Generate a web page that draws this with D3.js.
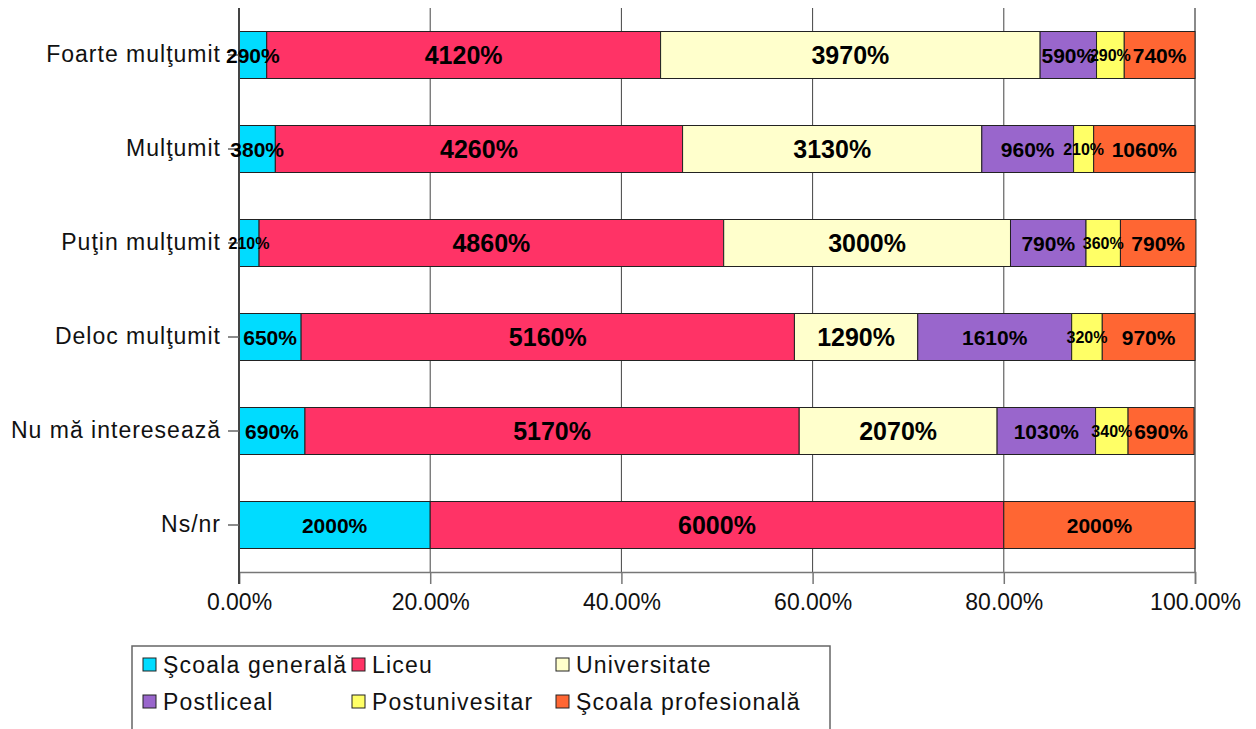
<!DOCTYPE html>
<html>
<head>
<meta charset="utf-8">
<script src="https://d3js.org/d3.v7.min.js"></script>
<style>
  body { margin: 0; background: #fff; }
  text { font-family: "Liberation Sans", Arial, sans-serif; }
</style>
</head>
<body>
<div id="container"></div>
<script>
/* chart data */
var categories = ["Foarte mulţumit", "Mulţumit", "Puţin mulţumit", "Deloc mulţumit", "Nu mă interesează", "Ns/nr"]
var series = ["Şcoala generală", "Liceu", "Universitate", "Postliceal", "Postunivesitar", "Şcoala profesională"]
var scoalaGenerala   = [2.9, 3.8, 2.1, 6.5, 6.9, 20]
var liceu            = [41.2, 42.6, 48.6, 51.6, 51.7, 60]
var universitate     = [39.7, 31.3, 30.0, 12.9, 20.7, 0]
var postliceal       = [5.9, 9.6, 7.9, 16.1, 10.3, 0]
var postunivesitar   = [2.9, 2.1, 3.6, 3.2, 3.4, 0]
var scoalaProf       = [7.4, 10.6, 7.9, 9.7, 6.9, 20]
var xTicks = [0, 20, 40, 60, 80, 100]
var colors = ["#00DCFF", "#FF3366", "#FFFFCC", "#9966CC", "#FFFF66", "#FF6633"]

var seriesValues = [scoalaGenerala, liceu, universitate, postliceal, postunivesitar, scoalaProf]

/* build a table for d3.stack */
var table = categories.map(function(c, i) {
  var row = { cat: c }
  series.forEach(function(s, j) { row[s] = seriesValues[j][i] })
  return row
})

var W = 1256, H = 729
var svg = d3.select("#container").append("svg")
            .attr("width", W).attr("height", H)

var x = d3.scaleLinear().domain([0, 100]).range([239, 1195])
var y = d3.scaleBand().domain(categories).range([8, 572])
          .paddingInner(0.5).paddingOuter(0.25)

/* gridlines */
svg.append("g").selectAll("line")
   .data(xTicks.slice(1))
   .enter().append("line")
     .attr("x1", function(d) { return x(d) }).attr("x2", function(d) { return x(d) })
     .attr("y1", 8).attr("y2", 572)
     .attr("stroke", function(d) { return d == 100 ? "#8a8a8a" : "#444" })
     .attr("stroke-width", function(d) { return d == 100 ? 2 : 1 })

/* x axis */
var xAxis = d3.axisBottom(x).tickValues(xTicks).tickSize(12).tickPadding(10)
              .tickFormat(function(d) { return d3.format(".2f")(d) + "%" })
var gx = svg.append("g").attr("transform", "translate(0,572)").call(xAxis)
gx.select(".domain").attr("stroke", "#777").attr("stroke-width", 1.5)
gx.selectAll(".tick line").attr("stroke", "#777").attr("stroke-width", 1.5)
gx.selectAll(".tick text").attr("font-size", 23).attr("fill", "#111")
  .attr("font-family", "Liberation Sans, Arial, sans-serif")

/* stacked bars */
var stack = d3.stack().keys(series)
var layers = stack(table)

var bars = svg.append("g").selectAll("g")
  .data(layers)
  .enter().append("g")
    .attr("fill", function(d, i) { return colors[i] })

bars.selectAll("rect")
  .data(function(d) { return d })
  .enter().append("rect")
    .attr("x", function(d) { return x(d[0]) })
    .attr("y", function(d) { return y(d.data.cat) })
    .attr("width", function(d) { return x(d[1]) - x(d[0]) })
    .attr("height", y.bandwidth())
    .attr("stroke", "#222")
    .attr("stroke-width", 1)
    .style("display", function(d) { return d[1] - d[0] > 0 ? null : "none" })

/* y axis */
var yAxis = d3.axisLeft(y).tickSize(11).tickPadding(7)
var gy = svg.append("g").attr("transform", "translate(239,0)").call(yAxis)
gy.select(".domain").attr("stroke", "#444").attr("stroke-width", 2)
  .attr("d", "M0,8V584")
gy.selectAll(".tick line").attr("stroke", "#666").attr("stroke-width", 1.5)
gy.selectAll(".tick text").attr("font-size", 23).attr("fill", "#111")
  .attr("letter-spacing", "1px")
  .attr("font-family", "Liberation Sans, Arial, sans-serif")

/* value labels */
function labelSize(k, v) {
  if (k == 1 || k == 2) return 25
  if (k == 4 || v < 2.5) return 16
  return 21
}

layers.forEach(function(layer, k) {
  svg.append("g").selectAll("text")
    .data(layer.filter(function(d) { return d[1] - d[0] > 0 }))
    .enter().append("text")
      .attr("x", function(d) { return (x(d[0]) + x(d[1])) / 2 })
      .attr("y", function(d) { return y(d.data.cat) + y.bandwidth() / 2 })
      .attr("dy", "0.36em")
      .attr("text-anchor", "middle")
      .attr("font-weight", "bold")
      .attr("font-size", function(d) { return labelSize(k, d[1] - d[0]) })
      .attr("fill", "#000")
      .text(function(d) { return Math.round((d[1] - d[0]) * 100) + "%" })
})

/* legend */
var legend = svg.append("g")
legend.append("rect")
  .attr("x", 132).attr("y", 646).attr("width", 698).attr("height", 100)
  .attr("fill", "#fff").attr("stroke", "#666").attr("stroke-width", 1.5)

var colX = [143, 352, 556], rowY = [658, 695]
var items = legend.selectAll(".item")
  .data(series)
  .enter().append("g")
    .attr("class", "item")
    .attr("transform", function(d, i) {
      return "translate(" + colX[i % 3] + "," + rowY[Math.floor(i / 3)] + ")"
    })
items.append("rect")
  .attr("width", 13).attr("height", 13)
  .attr("fill", function(d, i) { return colors[i] })
  .attr("stroke", "#222").attr("stroke-width", 1)
items.append("text")
  .attr("x", 20).attr("y", 7).attr("dy", "0.36em")
  .attr("font-size", 23).attr("fill", "#111")
  .attr("letter-spacing", "1.2px")
  .text(function(d) { return d })
</script>
</body>
</html>
